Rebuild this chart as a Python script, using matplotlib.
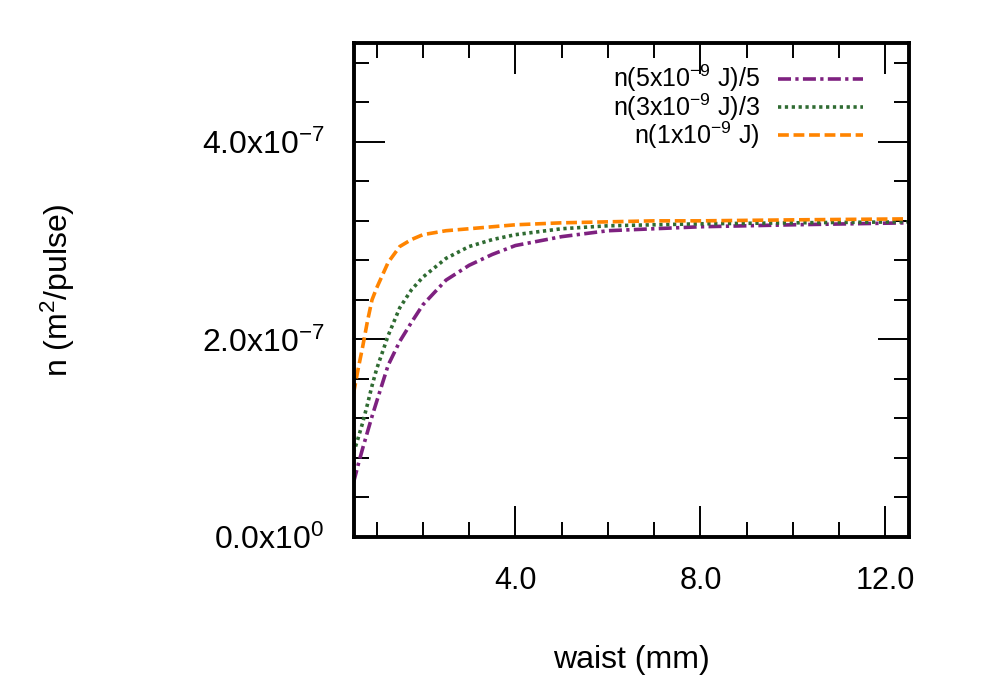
import matplotlib
matplotlib.use("Agg")
import matplotlib.pyplot as plt
from matplotlib.ticker import MultipleLocator, FixedLocator

plt.rcParams['font.family'] = ['Liberation Sans', 'DejaVu Sans']
plt.rcParams['mathtext.fontset'] = 'custom'
plt.rcParams['mathtext.rm'] = 'Liberation Sans'
plt.rcParams['mathtext.it'] = 'Liberation Sans:italic'
plt.rcParams['mathtext.bf'] = 'Liberation Sans:bold'

# waist (mm)
waist = [0.5, 0.6, 0.7, 0.8, 0.9, 1.0, 1.25, 1.5, 1.75, 2.0, 2.5, 3.0, 3.5,
         4.0, 5.0, 6.0, 7.0, 8.0, 10.0, 12.5]
# n values in units of 1e-7 m^2/pulse
n5 = [0.55, 0.73, 0.90, 1.06, 1.22, 1.37, 1.74, 1.98, 2.17, 2.35, 2.60, 2.75,
      2.86, 2.95, 3.04, 3.10, 3.12, 3.14, 3.16, 3.18]
n3 = [0.85, 1.00, 1.16, 1.34, 1.53, 1.70, 2.04, 2.32, 2.50, 2.63, 2.82, 2.94,
      3.01, 3.06, 3.12, 3.15, 3.16, 3.17, 3.18, 3.19]
n1 = [1.45, 1.70, 1.93, 2.18, 2.40, 2.52, 2.78, 2.94, 3.01, 3.06, 3.10, 3.12,
      3.14, 3.16, 3.18, 3.19, 3.20, 3.20, 3.21, 3.22]

labels = [r'n(5x10$^{-9}$ J)/5', r'n(3x10$^{-9}$ J)/3', r'n(1x10$^{-9}$ J)']
colors = ['#7e2180', '#2f6b32', '#ff8400']

xticks = [4.0, 8.0, 12.0]
xticklabels = ['4.0', '8.0', '12.0']
yticks = [0.0, 2.0e-7, 4.0e-7]
yticklabels = [r'0.0x10$^{0}$', r'2.0x10$^{-7}$', r'4.0x10$^{-7}$']

fig = plt.figure(figsize=(9.97, 6.92), dpi=100)
ax = fig.add_axes([353.5/997, (692-537)/692, 555/997, 494/692])

scale = 1e-7
lw = 2.6
ax.plot(waist, [v*scale for v in n5], color=colors[0], lw=lw,
        dashes=(3.6, 1.2, 0.9, 1.2), label=labels[0])
ax.plot(waist, [v*scale for v in n3], color=colors[1], lw=lw,
        dashes=(0.9, 1.0), label=labels[1])
ax.plot(waist, [v*scale for v in n1], color=colors[2], lw=lw,
        dashes=(3.0, 1.3), label=labels[2])

ax.set_xlim(0.5, 12.5)
ax.set_ylim(0, 5e-7)
ax.xaxis.set_major_locator(FixedLocator(xticks))
ax.set_xticklabels(xticklabels)
ax.xaxis.set_minor_locator(MultipleLocator(1.0))
ax.yaxis.set_major_locator(FixedLocator(yticks))
ax.set_yticklabels(yticklabels)
ax.yaxis.set_minor_locator(MultipleLocator(0.4e-7))

ax.tick_params(which='both', direction='in', top=True, right=True,
               width=1.4, color='black')
ax.tick_params(axis='x', labelsize=22)
ax.tick_params(axis='y', labelsize=23)
ax.tick_params(which='major', length=22)
ax.tick_params(which='minor', length=11)
ax.tick_params(axis='x', which='major', pad=21)
ax.tick_params(axis='y', which='major', pad=21)
for s in ax.spines.values():
    s.set_linewidth(2.8)

ax.set_xlabel('waist (mm)', fontsize=23)
ax.set_ylabel(r'n (m$^2$/pulse)', fontsize=23)
ax.yaxis.set_label_coords(-296/555, 0.5)
ax.xaxis.set_label_coords(0.5, -(660-537)/494)
ax.xaxis.label.set_va('center')
ax.yaxis.label.set_va('center')

leg = ax.legend(loc='upper right', frameon=False, markerfirst=False,
                fontsize=18, handlelength=3.4, handletextpad=0.7,
                labelspacing=-0.12, borderaxespad=0.0, borderpad=0.0,
                bbox_to_anchor=(1 - 46/555, 1 - 20/494))

fig.savefig('out.png', dpi=100)
